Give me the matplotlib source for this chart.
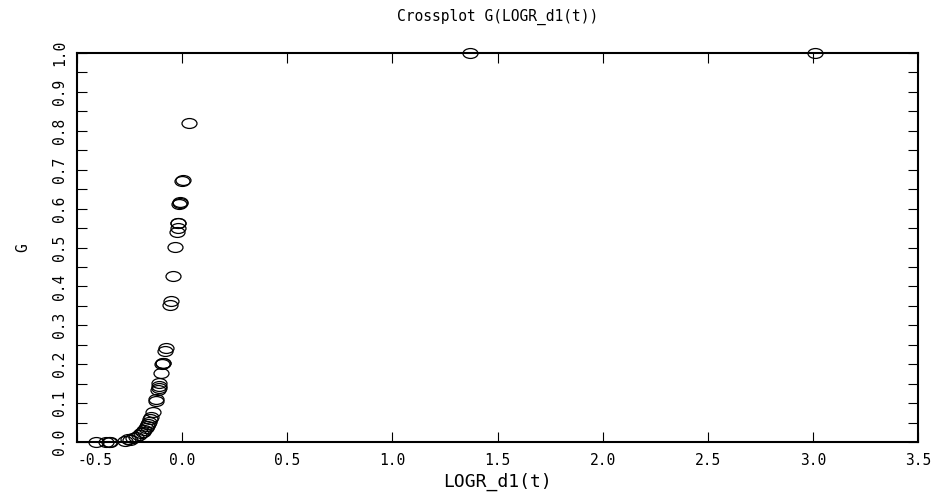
import matplotlib
matplotlib.use("Agg")
import matplotlib.pyplot as plt
from matplotlib.path import Path
from matplotlib.transforms import Affine2D
import numpy as np

logr = [-0.41, -0.36, -0.35, -0.345, -0.27, -0.259, -0.25, -0.235, -0.219,
        -0.205, -0.196, -0.188, -0.18, -0.174, -0.169, -0.164, -0.159, -0.153,
        -0.148, -0.14, -0.126, -0.123, -0.114, -0.112, -0.11, -0.108, -0.1,
        -0.095, -0.092, -0.09, -0.08, -0.078, -0.057, -0.055, -0.045, -0.032,
        -0.024, -0.022, -0.02, -0.018, -0.014, -0.012, -0.01, 0.0, 0.002,
        0.035, 1.368, 3.01]
g = [0.0, 0.0, 0.001, 0.0, 0.002, 0.007, 0.004, 0.01, 0.014,
     0.018, 0.022, 0.027, 0.031, 0.036, 0.041, 0.046, 0.052, 0.058,
     0.065, 0.078, 0.105, 0.11, 0.135, 0.14, 0.145, 0.151, 0.177,
     0.2, 0.204, 0.202, 0.233, 0.241, 0.352, 0.363, 0.427, 0.502,
     0.539, 0.551, 0.562, 0.563, 0.612, 0.615, 0.617, 0.672, 0.673,
     0.819, 1.0, 1.0]

xticks = [-0.5, 0.0, 0.5, 1.0, 1.5, 2.0, 2.5, 3.0, 3.5]
yticks = [0.0, 0.1, 0.2, 0.3, 0.4, 0.5, 0.6, 0.7, 0.8, 0.9, 1.0]

FONT = "DejaVu Sans Mono"
plt.rcParams['font.family'] = [FONT]
FS = 10.5

fig = plt.figure(figsize=(9.37, 4.93), dpi=100)
ax = fig.add_axes([0.0822, 0.1034, 0.8975, 0.7891])

# flat ellipse marker like the original plotting package
circ = Path.unit_circle()
ell = Affine2D().scale(1.0, 0.66).transform_path(circ)

ax.plot(logr, g, linestyle='none', marker=ell, markersize=10.8,
        markerfacecolor='none', markeredgecolor='black', markeredgewidth=0.9,
        clip_on=False)

ax.set_xlim(-0.5, 3.5)
ax.set_ylim(0.0, 1.0)

ax.set_xticks(xticks)
ax.set_xticklabels(['%.1f' % v for v in xticks], fontsize=FS)
ax.set_yticks(yticks)
ax.set_yticklabels(['%.1f' % v for v in yticks], fontsize=FS,
                   rotation=90, va='center')
ax.set_yticks(np.arange(0.05, 1.0, 0.1), minor=True)

ax.tick_params(axis='both', which='both', direction='in', length=7,
               width=0.8, top=True, right=True)
ax.tick_params(axis='x', pad=8)
ax.tick_params(axis='y', pad=7)
ax.xaxis.get_majorticklabels()[0].set_ha('left')

for sp in ax.spines.values():
    sp.set_linewidth(1.5)

ax.set_title('Crossplot G(LOGR_d1(t))', fontsize=FS, pad=23)
ax.set_xlabel('LOGR_d1(t)', fontsize=13, labelpad=3)
ax.set_ylabel('G', fontsize=FS, labelpad=16)

fig.savefig('out.png', dpi=100)
